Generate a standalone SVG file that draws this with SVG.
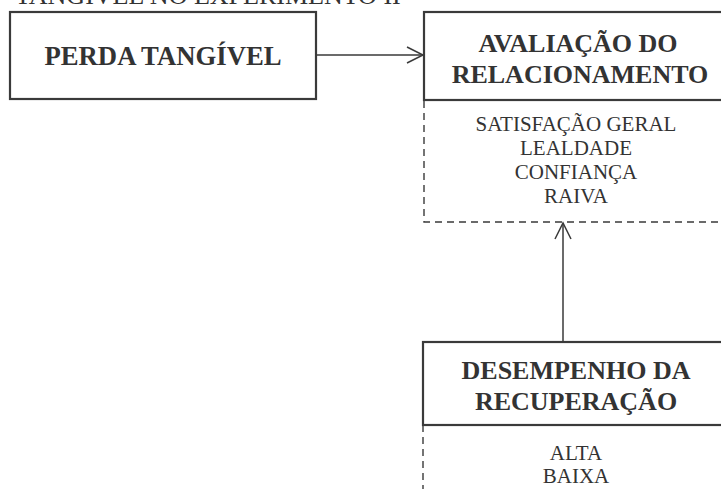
<svg xmlns="http://www.w3.org/2000/svg" width="721" height="489" viewBox="0 0 721 489">
<defs>
<style>
.box{fill:none;stroke:#3a3a3a;stroke-width:2.2}
.dash{fill:none;stroke:#3a3a3a;stroke-width:1.4;stroke-dasharray:7,5}
.edge{fill:none;stroke:#3a3a3a;stroke-width:1.5}
.h{font-family:"Liberation Serif","Times New Roman",serif;font-weight:bold;font-size:26px;fill:#333;text-anchor:middle}
.t{font-family:"Liberation Serif","Times New Roman",serif;font-size:21px;fill:#333;text-anchor:middle}
</style>
<marker id="open" viewBox="0 0 20 20" refX="18" refY="10" markerWidth="20" markerHeight="20" markerUnits="userSpaceOnUse" orient="auto">
<path d="M2,2 L18,10 L2,18" fill="none" stroke="#3a3a3a" stroke-width="1.5"/>
</marker>
</defs>
<rect width="721" height="489" fill="#fff"/>
<text x="15" y="3.5" style="font-family:'Liberation Serif','Times New Roman',serif;font-size:26px;fill:#333">TANGÍVEL NO EXPERIMENTO II</text>
<g id="perda">
<rect class="box" x="10" y="12" width="306" height="87"/>
<text class="h" x="163" y="65" style="font-size:26.7px">PERDA TANGÍVEL</text>
</g>
<g id="avaliacao">
<rect class="dash" x="424" y="100" width="320" height="122"/>
<rect class="box" x="424" y="12" width="320" height="88"/>
<text class="h" x="578" y="52">AVALIAÇÃO DO</text>
<text class="h" x="580" y="83">RELACIONAMENTO</text>
<text class="t" x="576" y="131">SATISFAÇÃO GERAL</text>
<text class="t" x="576" y="155">LEALDADE</text>
<text class="t" x="576" y="179">CONFIANÇA</text>
<text class="t" x="576" y="203">RAIVA</text>
</g>
<g id="desempenho">
<path class="dash" d="M423,425 V495 M423,425 H744"/>
<rect class="box" x="423" y="342" width="321" height="83"/>
<text class="h" x="576" y="379">DESEMPENHO DA</text>
<text class="h" x="576" y="410">RECUPERAÇÃO</text>
<text class="t" x="576" y="460">ALTA</text>
<text class="t" x="576" y="483">BAIXA</text>
</g>
<g id="connectors">
<line class="edge" x1="316" y1="55" x2="423" y2="55" marker-end="url(#open)"/>
<line class="edge" x1="563" y1="342" x2="563" y2="223" marker-end="url(#open)"/>
</g>
</svg>
